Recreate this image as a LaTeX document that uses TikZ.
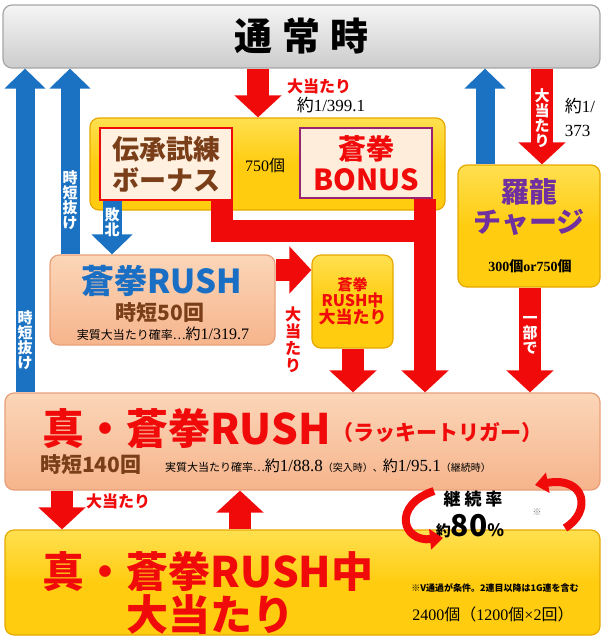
\documentclass[tikz,border=0pt]{standalone}
\usepackage{fontspec}
\setmainfont{Liberation Serif}
\newfontfamily\jp{Noto Sans CJK JP}
\usetikzlibrary{arrows.meta,calc}
\definecolor{ared}{HTML}{F00A0A}
\definecolor{ablue}{HTML}{1B72C2}
\definecolor{ybody}{HTML}{FFCC10}
\definecolor{ytop}{HTML}{FFE050}
\definecolor{yedge}{HTML}{E6A800}
\definecolor{ptop}{HTML}{FBD6B8}
\definecolor{pbot}{HTML}{F6B48C}
\definecolor{pedge}{HTML}{E8A07A}
\definecolor{brn}{HTML}{7A3E18}
\definecolor{purp}{HTML}{7030A0}
\definecolor{tblue}{HTML}{1A6FC4}
\tikzset{
  ybox/.style={rounded corners=9pt, draw=yedge, line width=1.2pt, top color=ytop, bottom color=ybody, middle color=ybody},
  pbox/.style={rounded corners=9pt, draw=pedge, line width=1.2pt, top color=ptop, bottom color=pbot},
  redarr/.style={draw=ared, line width=22pt, -{Triangle[width=46pt,length=22pt]}},
  redband/.style={draw=ared, line width=22pt},
  bluearr/.style={draw=ablue, line width=19pt, -{Triangle[width=40pt,length=20pt]}},
  vtext/.style={text=white, font=\jp\bfseries\fontsize{15}{15}\selectfont, align=center, inner sep=0pt},
  lbl/.style={inner sep=0pt},
  curvarr/.style={draw=ared, line width=8pt, -{Triangle[width=20pt,length=13pt]}},
}
\begin{document}
\begin{tikzpicture}[x=1pt,y=-1pt]
\useasboundingbox (0,0) rectangle (605,640);
% x positions
\coordinate (xa) at (25,0);
\coordinate (xb) at (70,0);
\coordinate (xc) at (112,0);
\coordinate (xd) at (258,0);
\coordinate (xe) at (485,0);
\coordinate (xf) at (542,0);
\coordinate (xg) at (222,0);
\coordinate (xh) at (425,0);
\coordinate (xi) at (353,0);
\coordinate (xj) at (530,0);
\coordinate (xk) at (62,0);
\coordinate (xl) at (240,0);
\coordinate (yb) at (0,231);
\coordinate (ya) at (0,270);
% boxes
\node[rounded corners=9pt, draw=gray!70, line width=1.2pt, top color=gray!8, bottom color=gray!40, minimum width=597pt, minimum height=63pt, inner sep=0pt] (top) at (301.5,36.5) {};
\node[lbl, font=\jp\bfseries\fontsize{38}{38}\selectfont] (toptxt) at (top) {通\hspace{10pt}常\hspace{10pt}時};
\node[ybox, minimum width=355pt, minimum height=92pt, inner sep=0pt] (bonus) at (267.5,164) {};
\node[draw=ared, line width=1.5pt, fill=orange!12, minimum width=132pt, minimum height=72pt, inner sep=0pt, text=brn, font=\jp\bfseries\fontsize{27}{31}\selectfont, align=center] (densho) at (166,164) {伝承試練\\ボーナス};
\node[draw=purp!70!red, line width=1.5pt, fill=orange!14, minimum width=132pt, minimum height=70pt, inner sep=0pt] (soken) at (366,163) {};
\node[lbl, text=ared, font=\jp\bfseries\fontsize{28}{28}\selectfont] (sk1) at (366,149) {蒼拳};
\node[lbl, text=ared, font=\jp\bfseries\fontsize{29}{29}\selectfont] (sk2) at (366,180) {BONUS};
\node[lbl, font=\fontsize{16}{16}\selectfont] (b750) at (265,165) {750{\jp 個}};
\node[ybox, minimum width=142pt, minimum height=122pt, inner sep=0pt] (raryu) at (529,226) {};
\node[lbl, text=purp, font=\jp\bfseries\fontsize{28}{30}\selectfont, align=center] (rtxt) at (529,207) {羅龍\\チャージ};
\node[lbl, font=\bfseries\fontsize{14}{14}\selectfont] (r300) at (530,266) {300{\jp 個}or750{\jp 個}};
\node[pbox, minimum width=225pt, minimum height=90pt, inner sep=0pt] (rush) at (162.5,300) {};
\node[lbl, text=tblue, font=\jp\bfseries\fontsize{33}{33}\selectfont] (rtitle) at (162,281) {蒼拳RUSH};
\node[lbl, text=brn, font=\jp\bfseries\fontsize{21}{21}\selectfont] (r50) at (160,313) {時短50回};
\node[lbl] (r319) at (163,334) {{\jp\fontsize{12}{12}\selectfont 実質大当たり確率…}{\jp\fontsize{15}{15}\selectfont 約}{\fontsize{16}{16}\selectfont 1/319.7}};
\node[ybox, minimum width=81pt, minimum height=93pt, inner sep=0pt] (rhit) at (352.5,301.5) {};
\node[lbl, text=ared, font=\jp\bfseries, align=center] (rhtxt) at (352.5,301) {{\fontsize{15}{17}\selectfont 蒼拳}\\{\fontsize{16}{19}\selectfont RUSH中}\\{\fontsize{17}{19}\selectfont 大当たり}};
\node[pbox, minimum width=595pt, minimum height=97pt, inner sep=0pt] (shin) at (302.5,441.5) {};
\node[lbl, text=ared, font=\jp\bfseries\fontsize{42}{42}\selectfont, anchor=west] (stitle) at (42,429) {真・蒼拳RUSH};
\node[lbl, text=ared, font=\jp\bfseries\fontsize{21}{21}\selectfont, anchor=west] (sluck) at (332,433) {（ラッキートリガー）};
\node[lbl, text=brn, font=\jp\bfseries\fontsize{21}{21}\selectfont, anchor=west] (s140) at (40,465) {時短140回};
\node[lbl, anchor=west] (sprob) at (165,466) {{\jp\fontsize{11}{11}\selectfont 実質大当たり確率…}{\jp\fontsize{15}{15}\selectfont 約}{\fontsize{17}{17}\selectfont 1/88.8}{\jp\fontsize{10}{10}\selectfont （突入時）、}{\jp\fontsize{15}{15}\selectfont 約}{\fontsize{17}{17}\selectfont 1/95.1}{\jp\fontsize{10}{10}\selectfont （継続時）}};
\node[ybox, minimum width=595pt, minimum height=105pt, inner sep=0pt] (shit) at (302.5,582.5) {};
\node[lbl, text=ared, font=\jp\bfseries\fontsize{42}{48}\selectfont] (shtxt1) at (208,572) {真・蒼拳RUSH中};
\node[lbl, text=ared, font=\jp\bfseries\fontsize{42}{48}\selectfont] (shtxt2) at (210,615) {大当たり};
\node[lbl, font=\jp\bfseries\fontsize{9}{9}\selectfont] (snote) at (495,588) {※V通過が条件。2連目以降は1G連を含む};
\node[lbl, font=\fontsize{16}{16}\selectfont] (s2400) at (493,614) {2400{\jp 個（}1200{\jp 個}×2{\jp 回）}};
% arrows
\draw[redarr] (top.south -| xd) -- (bonus.north -| xd);
\draw[redarr] (top.south -| xf) -- (raryu.north -| xf);
\draw[redband] (densho.south -| xg) -- (xg |- yb) -- ($(xh |- yb)+(11,0)$);
\draw[redarr] (soken.south -| xh) -- (shin.north -| xh);
\draw[redarr] (rush.east |- ya) -- (rhit.west |- ya);
\draw[redarr] (rhit.south -| xi) -- (shin.north -| xi);
\draw[redarr] (raryu.south -| xj) -- (shin.north -| xj);
\draw[redarr] (shin.south -| xk) -- (shit.north -| xk);
\draw[redarr] (shit.north -| xl) -- (shin.south -| xl);
\draw[bluearr] (shin.north -| xa) -- (top.south -| xa);
\draw[bluearr] (rush.north -| xb) -- (top.south -| xb);
\draw[bluearr] (raryu.north -| xe) -- (top.south -| xe);
\draw[bluearr] (densho.south -| xc) -- (rush.north -| xc);
% labels on arrows
\node[vtext] (v1) at (25,340) {時\\短\\抜\\け};
\node[vtext] (v2) at (70,200) {時\\短\\抜\\け};
\node[vtext] (v3) at (112,222) {敗\\北};
\node[vtext] (v4) at (542,118) {大\\当\\た\\り};
\node[vtext] (v5) at (530,335) {一\\部\\で};
\node[lbl, text=ared, font=\jp\bfseries\fontsize{16}{16}\selectfont] (l1) at (319,86) {大当たり};
\node[lbl, font=\fontsize{17}{17}\selectfont] (l2) at (331,105) {{\jp 約}1/399.1};
\node[lbl, font=\fontsize{17}{24}\selectfont, align=left] (l3) at (580,117) {{\jp 約}1/\\373};
\node[lbl, text=ared, font=\jp\bfseries\fontsize{16}{17}\selectfont, align=center] (l4) at (293,340) {大\\当\\た\\り};
\node[lbl, text=ared, font=\jp\bfseries\fontsize{16}{16}\selectfont] (l5) at (118,501) {大当たり};
% continuation rate
\node[lbl, font=\jp\bfseries\fontsize{17}{17}\selectfont] (k1) at (473,499) {継\hspace{4pt}続\hspace{4pt}率};
\node[lbl] (k2) at (470,526) {{\jp\bfseries\fontsize{15}{15}\selectfont 約}{\jp\bfseries\fontsize{30}{30}\selectfont 80}{\jp\bfseries\fontsize{17}{17}\selectfont \%}};
\node[lbl, text=gray, font=\jp\fontsize{9}{9}\selectfont] (k3) at (537,512) {※};
\coordinate (c1) at (434,491);
\coordinate (c2) at (443,538);
\coordinate (c3) at (565,528);
\coordinate (c4) at (535,485);
\draw[curvarr] (c1) .. controls (392,505) and (402,542) .. (c2);
\draw[curvarr] (c3) .. controls (592,512) and (586,476) .. (c4);
\end{tikzpicture}
\end{document}
